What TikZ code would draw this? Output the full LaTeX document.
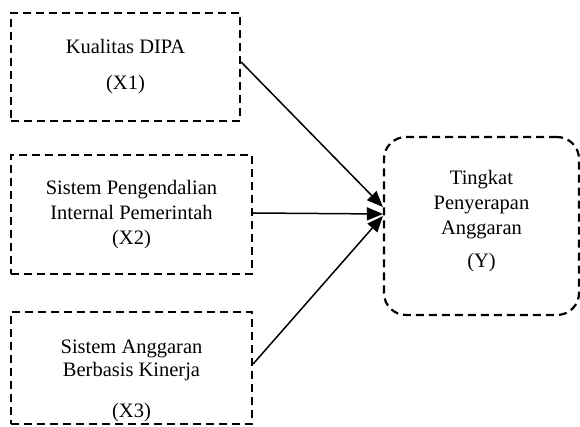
\documentclass[tikz,border=0pt]{standalone}
\usepackage{fontspec}
\setmainfont{Liberation Serif}
\usetikzlibrary{arrows.meta}

\begin{document}
\begin{tikzpicture}[x=1pt, y=-1pt,
    varbox/.style={draw, line width=2.2pt, dash pattern=on 8pt off 5pt,
        align=center, inner sep=0pt,
        font=\fontsize{20.5}{25}\selectfont},
    linkarrow/.style={-{Triangle[length=16pt, width=13pt]}, line width=1.5pt}]
\useasboundingbox (0,0) rectangle (580,427);

\node[varbox, minimum width=229pt, minimum height=108pt] (X1) at (125.5,67)
    {Kualitas DIPA\\[11pt](X1)\rule[-5pt]{0pt}{5pt}};
\node[varbox, minimum width=241pt, minimum height=119pt] (X2) at (131.5,214.5)
    {Sistem Pengendalian\\Internal Pemerintah\\(X2)};
\node[varbox, minimum width=241pt, minimum height=112pt] (X3) at (131.5,368)
    {\rule{0pt}{40pt}Sistem Anggaran\\[-2pt]Berbasis Kinerja\\[16pt](X3)};
\node[varbox, rounded corners=22pt, minimum width=195pt, minimum height=178pt] (Y) at (481.5,226)
    {Tingkat\\Penyerapan\\Anggaran\\[8pt](Y)\rule[-14pt]{0pt}{14pt}};

\draw[linkarrow] ([yshift=5pt]X1.east) -- ([yshift=19pt]Y.west);
\draw[linkarrow] ([yshift=1.5pt]X2.east) -- ([yshift=12pt]Y.west);
\draw[linkarrow] ([yshift=4pt]X3.east) -- ([yshift=10pt]Y.west);

\end{tikzpicture}
\end{document}
